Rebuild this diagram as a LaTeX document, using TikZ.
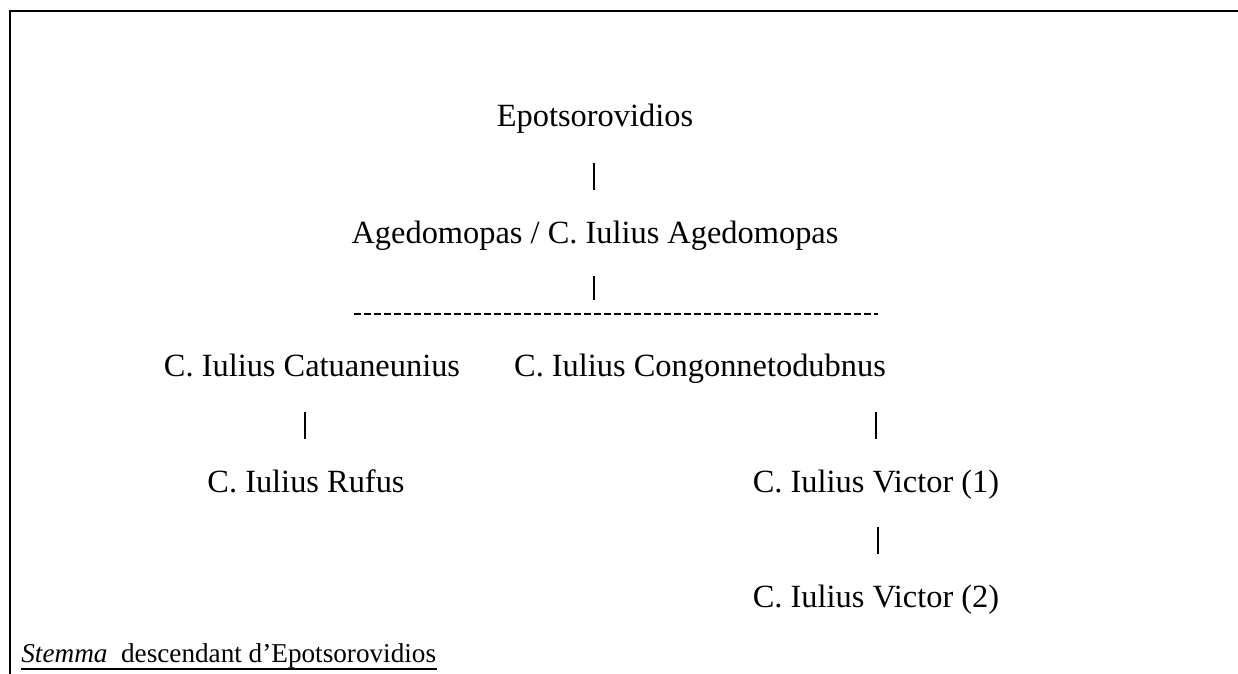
\documentclass[tikz,border=0pt]{standalone}
\usepackage{fontspec}
\setmainfont{Liberation Serif}
\usetikzlibrary{calc}
\tikzset{
  person/.style={anchor=base,inner sep=0pt,font=\fontsize{16.2}{19}\selectfont},
  bar/.style={line width=0.6pt},
  siblings/.style={line width=1.1pt,dash pattern=on 3.5pt off 1.5pt},
  frame/.style={line width=1pt}
}
\begin{document}
\begin{tikzpicture}[x=0.5pt,y=-0.5pt]
  \useasboundingbox (0,0) rectangle (1238,674);
  \draw[frame] (10,674) -- (10,11) -- (1240,11);
  % generations
  \node[person] (epo) at (595,127) {Epotsorovidios};
  \node[person] (age) at (595,243) {Agedomopas / C. Iulius Agedomopas};
  \node[person] (cat) at (312,376) {C. Iulius Catuaneunius};
  \node[person] (cong) at (700,376) {C. Iulius Congonnetodubnus};
  \node[person] (rufus) at (306,492) {C. Iulius Rufus};
  \node[person] (vicA) at (876,492) {C. Iulius Victor (1)};
  \node[person] (vicB) at (876,607) {C. Iulius Victor (2)};
  \coordinate (sibL) at (354,314);
  \coordinate (sibR) at (878,314);
  % links
  \draw[bar] ($(epo.base)+(-1,36)$) -- ($(age.base)+(-1,-53)$);
  \draw[bar] ($(age.base)+(-1,33)$) -- ($(age.base |- sibL)+(-1,-14)$);
  \draw[siblings] (sibL) -- (sibR);
  \draw[bar] ($(cat.base)+(-7,36)$) -- ($(rufus.base)+(-1,-53)$);
  \draw[bar] ($(cong.base)+(176,36)$) -- ($(vicA.base)+(0,-53)$);
  \draw[bar] ($(vicA.base)+(2,35)$) -- ($(vicB.base)+(2,-53)$);
  % caption
  \node[person,anchor=base west,font=\fontsize{13.6}{16}\selectfont] (caption) at (21,662)
    {\textit{Stemma}\ \ descendant d’Epotsorovidios};
  \draw[line width=0.9pt] ($(caption.base west)+(0,7)$) -- ($(caption.base east)+(0,7)$);
\end{tikzpicture}
\end{document}
